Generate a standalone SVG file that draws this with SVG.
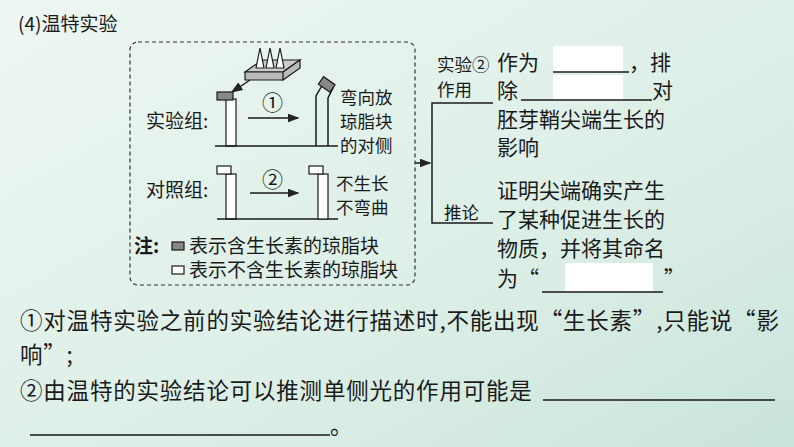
<svg xmlns="http://www.w3.org/2000/svg" width="794" height="447" viewBox="0 0 794 447">
<defs>
<linearGradient id="bg" x1="0" y1="0" x2="1" y2="1"><stop offset="0" stop-color="#eef6f2"/><stop offset="0.6" stop-color="#dcefe7"/><stop offset="1" stop-color="#c9e4da"/></linearGradient>
<marker id="ah" markerWidth="8" markerHeight="6" refX="7" refY="3" orient="auto"><path d="M0,0 L8,3 L0,6 Z" fill="#222"/></marker>
<style>
text{font-family:"Noto Sans CJK SC","Liberation Serif",serif;fill:#1a1a1a}
.t{font-size:21px}.s{font-size:17.5px}.l{font-size:19px}.b{font-size:22.5px;letter-spacing:0.8px}
.ln{stroke:#1a1a1a;stroke-width:1.5;fill:none}
.w{fill:#fff}.dk{fill:#888;stroke:#1a1a1a;stroke-width:1.2}.lt{fill:#fff;stroke:#1a1a1a;stroke-width:1.2}
</style>
</defs>
<rect width="794" height="447" fill="url(#bg)"/>
<text x="18" y="31" class="l">(4)温特实验</text>
<g id="box"><rect x="130" y="42" width="285" height="243" rx="8" fill="none" stroke="#333" stroke-width="1.2" stroke-dasharray="4,3"/></g>
<g id="apparatus">
<path d="M245,72 L262,60 L300,60 L283,72 Z" fill="#ccc" stroke="#1a1a1a" stroke-width="1.2"/>
<path d="M245,72 L283,72 L283,80 L245,80 Z M283,72 L300,60 L300,68 L283,80 Z" fill="#bbb" stroke="#1a1a1a" stroke-width="1.2"/>
<path d="M256,68 L260,48 L264,68 Z M266,68 L270,48 L274,68 Z M276,68 L280,48 L284,68 Z" class="lt"/>
<path d="M250,80 L232,92" class="ln" stroke-width="1.2" marker-end="url(#ah)"/>
</g>
<g id="exp">
<text x="146" y="128" class="l">实验组:</text>
<rect x="226" y="99" width="10" height="47" class="lt"/>
<rect x="217" y="92" width="16" height="8" class="dk"/>
<path d="M215,146 L338,146" class="ln"/>
<text x="262" y="110" class="t">①</text>
<path d="M248,118 L298,118" class="ln" marker-end="url(#ah)"/>
<path d="M316,146 L316,96 L324,82 M328,146 L328,98 L334,86" class="ln"/>
<rect x="320" y="80" width="14" height="9" class="dk" transform="rotate(35 327 84)"/>
<text x="340" y="104" class="s">弯向放</text><text x="340" y="128" class="s">琼脂块</text><text x="340" y="152" class="s">的对侧</text>
</g>
<g id="ctrl">
<text x="146" y="197" class="l">对照组:</text>
<rect x="226" y="174" width="10" height="45" class="lt"/>
<rect x="217" y="166" width="14" height="8" class="lt"/>
<path d="M217,219 L338,219" class="ln"/>
<text x="262" y="187" class="t">②</text>
<path d="M250,193 L298,193" class="ln" marker-end="url(#ah)"/>
<rect x="318" y="174" width="10" height="45" class="lt"/>
<rect x="309" y="166" width="14" height="8" class="lt"/>
<text x="336" y="190" class="s">不生长</text><text x="336" y="214" class="s">不弯曲</text>
</g>
<g id="legend">
<text x="134" y="253" class="l" font-weight="bold">注:</text>
<rect x="172" y="242" width="12" height="8" class="dk"/>
<text x="189" y="253" class="l">表示含生长素的琼脂块</text>
<rect x="172" y="266" width="12" height="8" class="lt"/>
<text x="189" y="277" class="l">表示不含生长素的琼脂块</text>
</g>
<g id="connectors">
<path d="M415,163 L430,163" class="ln" stroke-width="1.2" marker-end="url(#ah)"/>
<path d="M493,103 L432,103 L432,223 L493,223" class="ln" stroke-width="1.2"/>
</g>
<g id="right">
<text x="437" y="71" class="s">实验②</text><text x="437" y="96" class="s">作用</text>
<text x="444" y="219" class="s">推论</text>
<rect x="553" y="46" width="70" height="26" class="w"/>
<rect x="553" y="75" width="70" height="25" class="w"/>
<rect x="565" y="263" width="88" height="29" class="w"/>
<text x="497" y="70" class="t">作为</text><path d="M553,72 L629,72" class="ln" stroke-width="1"/><text x="629" y="70" class="t">，排</text>
<text x="497" y="98" class="t">除</text><path d="M521,100 L652,100" class="ln" stroke-width="1"/><text x="652" y="98" class="t">对</text>
<text x="497" y="127" class="t">胚芽鞘尖端生长的</text>
<text x="497" y="155" class="t">影响</text>
<text x="497" y="198" class="t">证明尖端确实产生</text>
<text x="497" y="227" class="t">了某种促进生长的</text>
<text x="497" y="256" class="t">物质，并将其命名</text>
<text x="497" y="286" class="t">为“</text><path d="M542,292 L663,292" class="ln" stroke-width="1"/><text x="664" y="286" class="t">”</text>
</g>
<g id="bottom">
<text x="20" y="329" class="b">①对温特实验之前的实验结论进行描述时,不能出现“生长素”,只能说“影</text>
<text x="20" y="363" class="b">响”;</text>
<text x="20" y="399" class="b">②由温特的实验结论可以推测单侧光的作用可能是</text>
<path d="M543,400 L775,400 M30,435 L330,435" class="ln" stroke-width="1"/>
<text x="330" y="434" class="b">。</text>
</g>
</svg>
